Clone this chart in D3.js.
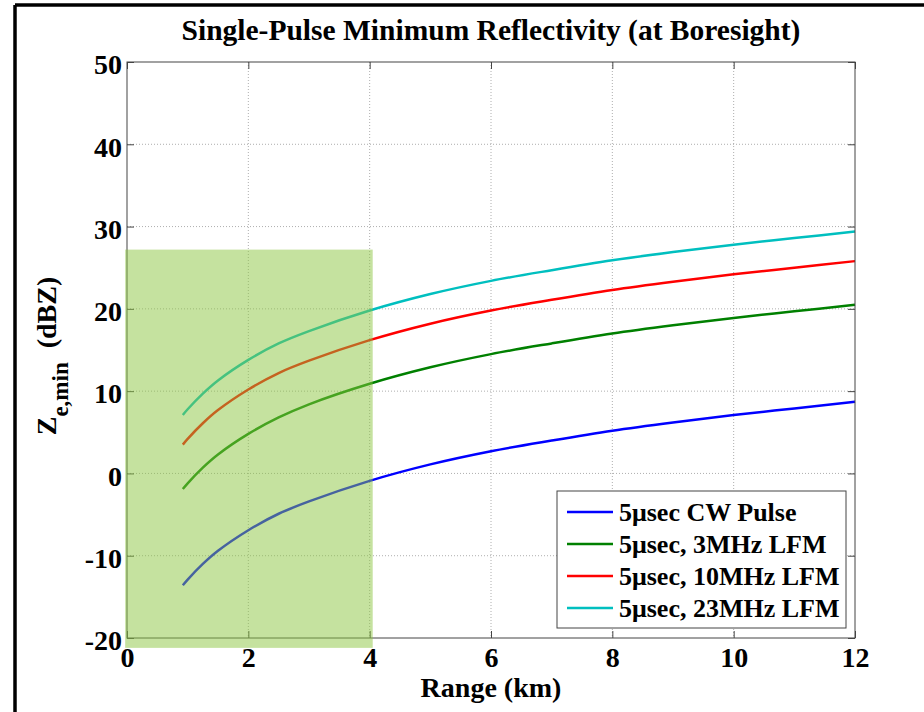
<!DOCTYPE html>
<html>
<head>
<meta charset="utf-8">
<script src="https://cdn.jsdelivr.net/npm/d3@7"></script>
<style>
body { margin: 0; background: #fff; }
text { font-family: "Liberation Serif", "Times New Roman", serif; font-weight: bold; fill: #000; }
</style>
</head>
<body>
<svg id="chart" width="924" height="712"></svg>
<script>
// range points (km)
var rangeKm = [0.92, 1, 1.25, 1.5, 2, 2.5, 3, 4, 5, 6, 7, 8, 9, 10, 11, 12];
var cwPulse = [-13.6, -12.9, -11.0, -9.4, -6.9, -4.9, -3.4, -0.9, 1.1, 2.7, 4.0, 5.2, 6.2, 7.1, 7.9, 8.7];
var lfm3 = [-1.9, -1.2, 0.7, 2.3, 4.8, 6.8, 8.4, 10.9, 12.9, 14.5, 15.8, 17.0, 18.0, 18.9, 19.7, 20.5];
var lfm10 = [3.5, 4.2, 6.1, 7.7, 10.2, 12.2, 13.7, 16.2, 18.2, 19.8, 21.1, 22.3, 23.3, 24.2, 25.0, 25.8];
var lfm23 = [7.1, 7.8, 9.7, 11.3, 13.8, 15.8, 17.3, 19.8, 21.8, 23.4, 24.7, 25.9, 26.9, 27.8, 28.6, 29.4];
var seriesNames = ['5\u03bcsec CW Pulse', '5\u03bcsec, 3MHz LFM', '5\u03bcsec, 10MHz LFM', '5\u03bcsec, 23MHz LFM'];
var seriesColors = ['#0000ff', '#008000', '#ff0000', '#00bfbf'];
var xTicks = [0, 2, 4, 6, 8, 10, 12];
var yTicks = [-20, -10, 0, 10, 20, 30, 40, 50];
// shaded region: range 0-4 km, up to ~27 dBZ
var shadeX = [-0.03, 4.05];
var shadeY = [-21.2, 27.2];

var svg = d3.select('#chart');
var plotLeft = 127, plotRight = 855, plotTop = 62, plotBottom = 638;

var x = d3.scaleLinear().domain([0, 12]).range([plotLeft, plotRight]);
var y = d3.scaleLinear().domain([-20, 50]).range([plotBottom, plotTop]);

// figure frame
svg.append('line').attr('x1', 15).attr('y1', 5).attr('x2', 15).attr('y2', 712)
	.attr('stroke', '#000').attr('stroke-width', 3.5);
svg.append('line').attr('x1', 15).attr('y1', 5).attr('x2', 924).attr('y2', 5)
	.attr('stroke', '#000').attr('stroke-width', 3.5);

// grid
var grid = svg.append('g');
grid.selectAll('.vg').data(xTicks.slice(1, -1)).enter().append('line')
	.attr('x1', d => x(d)).attr('x2', d => x(d)).attr('y1', plotTop).attr('y2', plotBottom)
	.attr('stroke', '#999').attr('stroke-width', 0.8).attr('stroke-dasharray', '1,2');
grid.selectAll('.hg').data(yTicks.slice(1, -1)).enter().append('line')
	.attr('y1', d => y(d)).attr('y2', d => y(d)).attr('x1', plotLeft).attr('x2', plotRight)
	.attr('stroke', '#999').attr('stroke-width', 0.8).attr('stroke-dasharray', '1,2');

// series
var series = [cwPulse, lfm3, lfm10, lfm23];
var line = d3.line()
	.x(function (d, i) { return x(rangeKm[i]); })
	.y(function (d) { return y(d); })
	.curve(d3.curveCatmullRom);
svg.selectAll('.series').data(series).enter().append('path')
	.attr('d', line)
	.attr('fill', 'none')
	.attr('stroke', (d, i) => seriesColors[i])
	.attr('stroke-width', 2.5);

// axes (MATLAB-style inward ticks, box)
var axisColor = '#444';
var plainNum = d => String(d);
svg.append('g').attr('class', 'xaxis').attr('transform', 'translate(0,' + plotBottom + ')')
	.call(d3.axisBottom(x).tickValues(xTicks).tickSize(-7).tickPadding(9).tickFormat(plainNum))
	.call(g => g.select('.domain').remove());
svg.append('g').attr('transform', 'translate(0,' + plotTop + ')')
	.call(d3.axisTop(x).tickValues(xTicks).tickSize(-7).tickFormat(''))
	.call(g => g.select('.domain').remove());
svg.append('g').attr('class', 'yaxis').attr('transform', 'translate(' + plotLeft + ',0)')
	.call(d3.axisLeft(y).tickValues(yTicks).tickSize(-7).tickPadding(5).tickFormat(plainNum))
	.call(g => g.select('.domain').remove());
svg.append('g').attr('transform', 'translate(' + plotRight + ',0)')
	.call(d3.axisRight(y).tickValues(yTicks).tickSize(-7).tickFormat(''))
	.call(g => g.select('.domain').remove());
svg.selectAll('.tick line').attr('stroke', axisColor);
svg.selectAll('.tick text')
	.attr('fill', '#000')
	.style('font-size', '28px')
	.style('font-family', '"Liberation Serif", serif')
	.style('font-weight', 'bold');
svg.selectAll('.yaxis .tick text').attr('dy', '0.42em');
svg.append('rect')
	.attr('x', plotLeft).attr('y', plotTop).attr('width', plotRight - plotLeft).attr('height', plotBottom - plotTop)
	.attr('fill', 'none').attr('stroke', axisColor).attr('stroke-width', 1);

// shaded region
svg.append('rect')
	.attr('x', x(shadeX[0])).attr('y', y(shadeY[1]))
	.attr('width', x(shadeX[1]) - x(shadeX[0]))
	.attr('height', y(shadeY[0]) - y(shadeY[1]))
	.attr('fill', '#8cc63f').attr('fill-opacity', 0.5);

// legend
var lg = svg.append('g').attr('transform', 'translate(557,491)');
lg.append('rect').attr('width', 289).attr('height', 137)
	.attr('fill', '#fff').attr('stroke', axisColor).attr('stroke-width', 1);
var items = lg.selectAll('.item').data(seriesNames).enter().append('g')
	.attr('transform', (d, i) => 'translate(0,' + (21 + i * 32) + ')');
items.append('line').attr('x1', 10).attr('x2', 56).attr('y1', 0).attr('y2', 0)
	.attr('stroke', (d, i) => seriesColors[i]).attr('stroke-width', 2.5);
items.append('text').attr('x', 62).attr('y', 9)
	.style('font-size', '26px').text(d => d);

// titles
svg.append('text').attr('x', 491).attr('y', 40).attr('text-anchor', 'middle')
	.style('font-size', '29.5px').text('Single-Pulse Minimum Reflectivity (at Boresight)');
svg.append('text').attr('x', 491).attr('y', 697).attr('text-anchor', 'middle')
	.style('font-size', '28px').text('Range (km)');
var yl = svg.append('text').attr('transform', 'translate(56,356) rotate(-90)')
	.attr('text-anchor', 'middle').style('font-size', '28px');
yl.append('tspan').text('Z');
yl.append('tspan').attr('dy', 12).style('font-size', '23px').text('e,min');
yl.append('tspan').attr('dy', -12).text('\u00a0\u00a0(dBZ)');
</script>
</body>
</html>
